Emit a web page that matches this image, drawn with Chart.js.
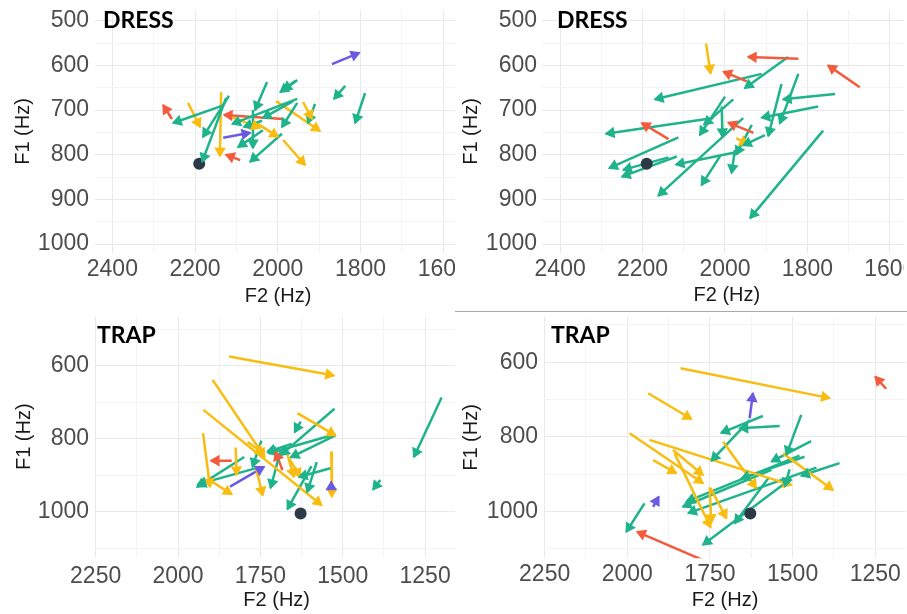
<!DOCTYPE html>
<html>
<head>
<meta charset="utf-8">
<script src="https://cdn.jsdelivr.net/npm/chart.js@4.4.1/dist/chart.umd.min.js"></script>
<style>
  html, body { margin: 0; padding: 0; background: #fff; }
  body { width: 907px; height: 614px; position: relative; overflow: hidden; }
  .panel { position: absolute; overflow: hidden; }
  .panel canvas { position: absolute; left: 0; top: 0; }
  .tag { position: absolute; font: bold 23px Lato, "Liberation Sans", sans-serif; line-height: 23px; color: #000; }
  .rule { position: absolute; left: 455px; top: 311px; width: 452px; height: 1px; background: #a9a9a9; }
</style>
</head>
<body>
<div class="panel" style="left:0;top:0;width:455px;height:310px"><canvas id="c1" width="470" height="310"></canvas></div>
<div class="panel" style="left:450px;top:0;width:454px;height:310px"><canvas id="c2" width="470" height="310"></canvas></div>
<div class="panel" style="left:0;top:310px;width:455px;height:304px"><canvas id="c3" width="470" height="304"></canvas></div>
<div class="panel" style="left:450px;top:310px;width:457px;height:304px"><canvas id="c4" width="470" height="304"></canvas></div>
<div class="rule"></div>
<div class="tag" style="left:103px;top:8px">DRESS</div>
<div class="tag" style="left:557px;top:8px">DRESS</div>
<div class="tag" style="left:97px;top:323px">TRAP</div>
<div class="tag" style="left:551px;top:323px">TRAP</div>

<script>
// each arrow: [F2 start, F1 start, F2 end, F1 end, group]
const dressA = [
  [2130, 689, 2253, 729, 0], [2118, 668, 2181, 760, 0], [2125, 673, 2183, 816, 0],
  [2026, 637, 2055, 700, 0], [2060, 700, 2060, 785, 0], [1958, 635, 1994, 660, 0],
  [1953, 633, 1987, 655, 0], [1953, 675, 2110, 731, 0], [1910, 686, 1927, 729, 0],
  [1953, 684, 1990, 738, 0], [1963, 680, 2036, 718, 0], [1990, 753, 2067, 816, 0],
  [2036, 745, 2096, 783, 0], [1837, 646, 1864, 675, 0], [1789, 662, 1813, 729, 0],
  [2038, 724, 2082, 738, 0],
  [2217, 684, 2188, 738, 1], [2137, 660, 2140, 803, 1], [2004, 680, 1898, 747, 1],
  [1939, 682, 1917, 720, 1], [1987, 767, 1934, 823, 1], [2120, 713, 2043, 740, 1],
  [2055, 727, 1999, 760, 1],
  [2256, 720, 2277, 689, 2], [1987, 720, 2130, 711, 2], [2091, 812, 2125, 800, 2],
  [2132, 762, 2067, 751, 3], [1869, 597, 1803, 572, 3]
];

const dressB = [
  [2046, 551, 2035, 618, 1], [1973, 763, 1944, 777, 1],
  [1822, 585, 1944, 581, 2], [1673, 649, 1750, 600, 2], [1947, 636, 2004, 614, 2],
  [2137, 765, 2202, 729, 2], [1931, 751, 1992, 728, 2],
  [1847, 581, 1952, 651, 0], [1911, 619, 2170, 676, 0], [2028, 718, 2289, 753, 0],
  [2000, 670, 2061, 756, 0], [1980, 676, 2051, 733, 0], [2008, 692, 2006, 760, 0],
  [1762, 746, 1939, 942, 0], [1733, 664, 1859, 676, 0], [1774, 692, 1911, 717, 0],
  [1822, 619, 1867, 730, 0], [1863, 642, 1895, 758, 0], [1903, 756, 1956, 779, 0],
  [1935, 733, 1973, 800, 0], [1976, 789, 1984, 841, 0], [1956, 718, 2162, 892, 0],
  [1976, 795, 2119, 822, 0], [2012, 803, 2057, 868, 0], [2113, 761, 2281, 830, 0],
  [2117, 804, 2250, 849, 0], [2137, 806, 2247, 834, 0]
];

const trapA = [
  [1845, 575, 1527, 627, 1], [1895, 639, 1737, 850, 1], [1923, 721, 1564, 982, 1],
  [1924, 785, 1903, 932, 1], [1903, 914, 1837, 952, 1], [1825, 824, 1822, 899, 1],
  [1638, 730, 1522, 791, 1], [1535, 835, 1533, 959, 1], [1764, 878, 1743, 955, 1],
  [1668, 843, 1648, 905, 1], [1789, 809, 1739, 841, 1], [1663, 854, 1628, 905, 1],
  [1525, 718, 1688, 845, 0], [1522, 788, 1725, 840, 0], [1522, 791, 1658, 851, 0],
  [1628, 753, 1646, 782, 0], [1799, 850, 1942, 932, 0], [1749, 877, 1940, 925, 0],
  [1747, 805, 1774, 877, 0], [1688, 829, 1719, 935, 0], [1655, 814, 1729, 836, 0],
  [1579, 864, 1608, 946, 0], [1595, 875, 1668, 993, 0], [1535, 880, 1633, 905, 0],
  [1200, 687, 1284, 850, 0], [1386, 913, 1408, 939, 0],
  [1837, 860, 1900, 860, 2], [1683, 886, 1704, 836, 2],
  [1842, 931, 1739, 877, 3], [1535, 932, 1535, 918, 3]
];

const trapB = [
  [1839, 616, 1388, 696, 1], [1937, 683, 1806, 752, 1], [1993, 790, 1771, 924, 1],
  [1933, 808, 1504, 929, 1], [1922, 862, 1852, 897, 1], [1862, 835, 1771, 902, 1],
  [1857, 844, 1748, 1042, 1], [1751, 935, 1746, 1030, 1], [1748, 937, 1700, 1018, 1],
  [1710, 813, 1610, 937, 1], [1529, 844, 1378, 942, 1],
  [1590, 744, 1716, 789, 0], [1539, 771, 1660, 777, 0], [1630, 755, 1746, 864, 0],
  [1474, 741, 1519, 848, 0], [1444, 811, 1564, 866, 0], [1464, 853, 1655, 911, 0],
  [1479, 850, 1821, 973, 0], [1358, 870, 1474, 904, 0], [1428, 882, 1816, 1004, 0],
  [1574, 911, 1675, 1031, 0], [1509, 887, 1524, 933, 0], [1504, 911, 1771, 1089, 0],
  [1948, 978, 2003, 1054, 0], [1564, 888, 1832, 987, 0],
  [1771, 1130, 1970, 1054, 2], [1217, 671, 1250, 639, 2],
  [1630, 750, 1620, 683, 3], [1922, 987, 1905, 960, 3]
];

const dressCentroid = [2190, 820];
const trapCentroid = [1628, 1005];

const dressF1Major = [500, 600, 700, 800, 900, 1000];
const dressF1Minor = [550, 650, 750, 850, 950];
const dressF2Major = [1600, 1800, 2000, 2200, 2400];
const dressF2Minor = [1700, 1900, 2100, 2300];
const trapF1Major = [600, 800, 1000];
const trapF1Minor = [500, 700, 900, 1100];
const trapF2Major = [1250, 1500, 1750, 2000, 2250];
const trapF2Minor = [1375, 1625, 1875, 2125];

const groupColors = ['#1fb38c', '#f8bd10', '#f45a3c', '#6b5ae2'];
const centroidColor = '#2c3a47';
const tickFont = { family: '"Liberation Sans", Arial, sans-serif', size: 23 };
const titleFont = { family: '"Liberation Sans", Arial, sans-serif', size: 20 };

// closed arrowheads at the end point of every segment
const arrowHeads = {
  id: 'arrowHeads',
  afterDatasetsDraw(chart) {
    const { ctx, chartArea: ca } = chart;
    ctx.save();
    ctx.beginPath();
    ctx.rect(ca.left, ca.top, ca.right - ca.left, ca.bottom - ca.top);
    ctx.clip();
    chart.data.datasets.forEach((ds, i) => {
      if (!ds.arrow) return;
      const [p0, p1] = chart.getDatasetMeta(i).data;
      const ang = Math.atan2(p1.y - p0.y, p1.x - p0.x);
      const len = 9, spread = Math.PI / 6;
      ctx.beginPath();
      ctx.moveTo(p1.x, p1.y);
      ctx.lineTo(p1.x - len * Math.cos(ang - spread), p1.y - len * Math.sin(ang - spread));
      ctx.lineTo(p1.x - len * Math.cos(ang + spread), p1.y - len * Math.sin(ang + spread));
      ctx.closePath();
      ctx.fillStyle = ds.borderColor;
      ctx.strokeStyle = ds.borderColor;
      ctx.lineWidth = 1.5;
      ctx.fill();
      ctx.stroke();
    });
    ctx.restore();
  }
};

function axis(major, minor, opts) {
  const all = major.concat(minor).sort((a, b) => a - b);
  return {
    type: 'linear',
    position: opts.position,
    reverse: true,
    min: opts.min,
    max: opts.max,
    afterBuildTicks: s => { s.ticks = all.map(v => ({ value: v })); },
    afterFit: s => {
      if (opts.position === 'left') s.width = opts.size; else s.height = opts.size;
      s.paddingLeft = 0; s.paddingRight = 0; s.paddingTop = 0; s.paddingBottom = 0;
    },
    border: { display: false },
    grid: {
      drawTicks: false,
      lineWidth: 1,
      color: c => major.includes(c.tick.value) ? '#e9e9e9' : '#f4f4f4'
    },
    ticks: {
      autoSkip: false,
      maxRotation: 0,
      padding: opts.tickPad,
      color: '#4d4d4d',
      font: tickFont,
      callback: v => major.includes(v) ? String(v) : ''
    },
    title: {
      display: true,
      text: opts.title,
      color: '#1a1a1a',
      font: titleFont,
      padding: opts.position === 'left' ? { top: opts.titlePad, bottom: 0 } : { top: 0, bottom: opts.titlePad }
    }
  };
}

function drawPanel(id, arrows, centroid, ticks, cfg) {
  const datasets = [{
    data: [{ x: centroid[0], y: centroid[1] }],
    pointRadius: 6,
    backgroundColor: centroidColor,
    borderWidth: 0,
    order: 0
  }];
  arrows.forEach(a => {
    datasets.push({
      data: [{ x: a[0], y: a[1] }, { x: a[2], y: a[3] }],
      showLine: true,
      borderColor: groupColors[a[4]],
      borderWidth: 2.5,
      pointRadius: 0,
      arrow: true,
      order: 1
    });
  });
  new Chart(document.getElementById(id), {
    type: 'scatter',
    data: { datasets },
    options: {
      responsive: false,
      animation: false,
      events: [],
      layout: { padding: cfg.pad },
      plugins: { legend: { display: false }, tooltip: { enabled: false } },
      scales: {
        x: axis(ticks.xMajor, ticks.xMinor, {
          position: 'bottom', min: cfg.xMin, max: cfg.xMax, size: cfg.xSize,
          tickPad: cfg.xTickPad, titlePad: cfg.xTitlePad, title: 'F2 (Hz)'
        }),
        y: axis(ticks.yMajor, ticks.yMinor, {
          position: 'left', min: cfg.yMin, max: cfg.yMax, size: cfg.ySize,
          tickPad: cfg.yTickPad, titlePad: cfg.yTitlePad, title: 'F1 (Hz)'
        })
      }
    },
    plugins: [arrowHeads]
  });
}

const dressTicks = { xMajor: dressF2Major, xMinor: dressF2Minor, yMajor: dressF1Major, yMinor: dressF1Minor };
const trapTicks = { xMajor: trapF2Major, xMinor: trapF2Minor, yMajor: trapF1Major, yMinor: trapF1Minor };

drawPanel('c1', dressA, dressCentroid, dressTicks, {
  pad: { top: 10, right: 9, bottom: 0, left: 0 }, xMin: 1557, xMax: 2442, yMin: 476, yMax: 1020,
  xSize: 57, ySize: 95, xTickPad: 3, yTickPad: 6, xTitlePad: 2, yTitlePad: 11
});
drawPanel('c2', dressB, dressCentroid, dressTicks, {
  pad: { top: 10, right: 8.3, bottom: 0, left: 0 }, xMin: 1547, xMax: 2444, yMin: 476, yMax: 1020,
  xSize: 57, ySize: 92, xTickPad: 3, yTickPad: 5, xTitlePad: 3, yTitlePad: 9.7
});
drawPanel('c3', trapA, trapCentroid, trapTicks, {
  pad: { top: 6.7, right: 11.6, bottom: 0, left: 0 }, xMin: 1149, xMax: 2252, yMin: 466, yMax: 1123,
  xSize: 57.3, ySize: 95, xTickPad: 6, yTickPad: 6, xTitlePad: 2, yTitlePad: 12
});
drawPanel('c4', trapB, trapCentroid, trapTicks, {
  pad: { top: 6.7, right: 14, bottom: 0, left: 0 }, xMin: 1157, xMax: 2252, yMin: 478, yMax: 1125,
  xSize: 55.7, ySize: 94, xTickPad: 3, yTickPad: 6, xTitlePad: 2, yTitlePad: 9.7
});
</script>
</body>
</html>
